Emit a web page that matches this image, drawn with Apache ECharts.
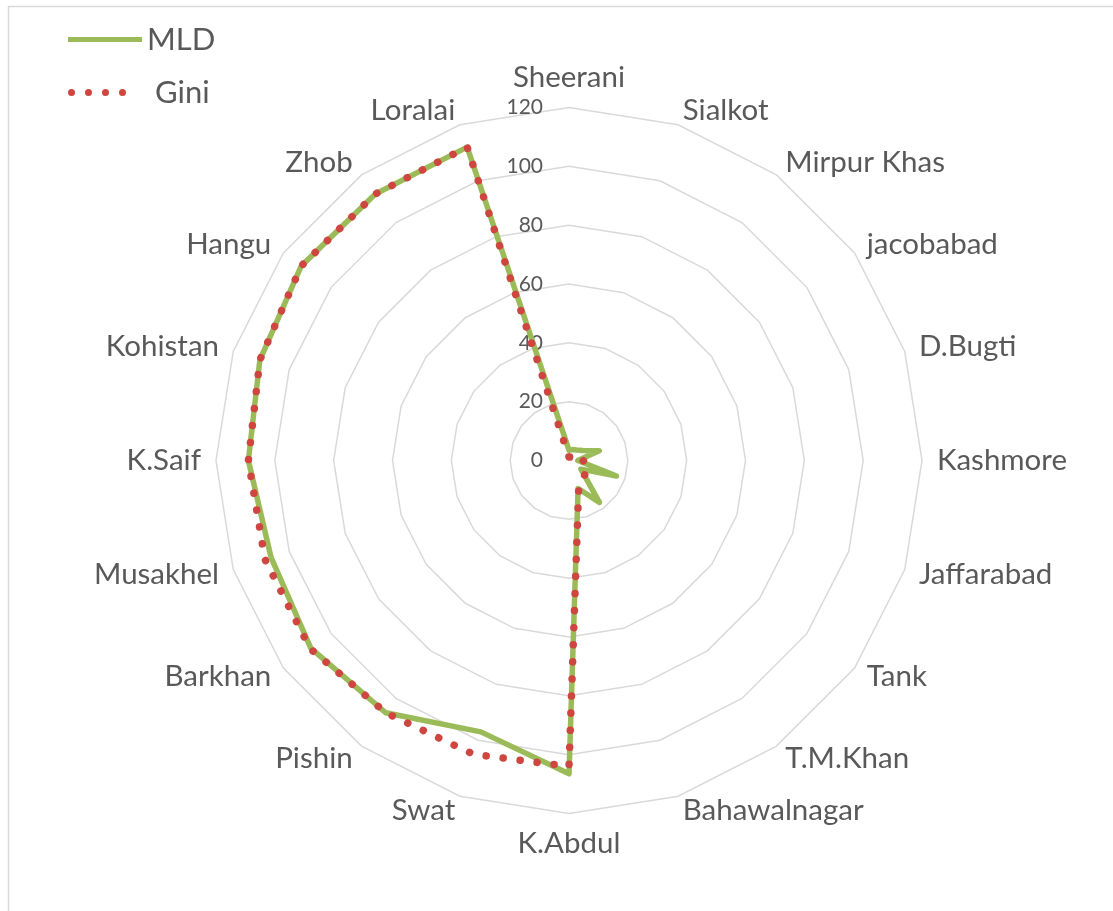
<!DOCTYPE html>
<html>
<head>
<meta charset="utf-8">
<script src="https://cdn.jsdelivr.net/npm/echarts@6/dist/echarts.min.js"></script>
<style>
  html, body { margin: 0; padding: 0; background: #ffffff; }
  #chart { width: 1113px; height: 911px; }
</style>
</head>
<body>
<div id="chart"></div>
<script>
// Categories, clockwise from the top
const categories = ['Sheerani', 'Sialkot', 'Mirpur Khas', 'jacobabad', 'D.Bugti', 'Kashmore',
  'Jaffarabad', 'Tank', 'T.M.Khan', 'Bahawalnagar', 'K.Abdul', 'Swat', 'Pishin', 'Barkhan',
  'Musakhel', 'K.Saif', 'Kohistan', 'Hangu', 'Zhob', 'Loralai'];
const mldValues = [3.5, 3.9, 4.4, 5.8, 10.8, 3, 17, 5, 17.6, 10,
  106.5, 97, 106, 108.5, 106.5, 109, 110.5, 112.5, 112, 112];
const giniValues = [1.2, 1.2, 1.5, 2, 4.6, 4.8, 7, 7, 8, 10.6,
  104, 105, 106, 108.8, 108.7, 109, 110.5, 112.5, 112, 112];
const ringTicks = [0, 20, 40, 60, 80, 100, 120];
const seriesNames = ['MLD', 'Gini'];

const FONT = 'Lato, "Open Sans", sans-serif';
const GREEN = '#9bbb59';
const RED = '#cf4640';

// ECharts places indicators counter-clockwise; reorder so they read clockwise
const order = [0].concat(categories.map((_, i) => i).slice(1).reverse());
const axisMax = ringTicks[ringTicks.length - 1];
const indicators = order.map(i => ({ name: categories[i], min: ringTicks[0], max: axisMax }));
indicators[0].axisLabel = {
  show: true, color: '#595959', fontSize: 21, fontFamily: FONT, margin: 26
};

const chart = echarts.init(document.getElementById('chart'), null, { renderer: 'canvas' });

const dotsIcon = 'path://M0,3.5a3.5,3.5 0 1,0 7,0a3.5,3.5 0 1,0 -7,0Z' +
  'M17,3.5a3.5,3.5 0 1,0 7,0a3.5,3.5 0 1,0 -7,0Z' +
  'M34,3.5a3.5,3.5 0 1,0 7,0a3.5,3.5 0 1,0 -7,0Z' +
  'M51,3.5a3.5,3.5 0 1,0 7,0a3.5,3.5 0 1,0 -7,0Z';

chart.setOption({
  backgroundColor: '#ffffff',
  animation: false,
  graphic: [{
    type: 'rect', silent: true, z: -10,
    shape: { x: 8.5, y: 6.5, width: 1300, height: 1100 },
    style: { fill: 'none', stroke: '#d9d9d9', lineWidth: 1.5 }
  }],
  legend: [{
    data: [{ name: seriesNames[0], icon: 'rect' }],
    orient: 'vertical', left: 68, top: 24, padding: 0,
    itemWidth: 74, itemHeight: 5,
    textStyle: { color: '#595959', fontSize: 31, fontFamily: FONT },
    selectedMode: false
  }, {
    data: [{ name: seriesNames[1], icon: dotsIcon }],
    orient: 'vertical', left: 68, top: 77, padding: 0,
    itemWidth: 58, itemHeight: 7,
    textStyle: { color: '#595959', fontSize: 31, fontFamily: FONT, padding: [0, 0, 0, 24] },
    selectedMode: false
  }],
  radar: {
    center: [569, 460.5],
    radius: 353,
    startAngle: 90,
    shape: 'polygon',
    splitNumber: ringTicks.length - 1,
    indicator: indicators,
    nameGap: 15,
    axisName: { color: '#595959', fontSize: 29.5, fontFamily: FONT },
    axisLine: { show: false },
    axisTick: { show: false },
    axisLabel: { show: false },
    splitLine: { lineStyle: { color: '#d9d9d9', width: 1.5 } },
    splitArea: { show: false }
  },
  series: [{
    type: 'radar',
    symbol: 'none',
    data: [{
      name: seriesNames[0],
      value: order.map(i => mldValues[i]),
      itemStyle: { color: GREEN },
      lineStyle: { color: GREEN, width: 5.5, join: 'round', cap: 'round' }
    }, {
      name: seriesNames[1],
      value: order.map(i => giniValues[i]),
      itemStyle: { color: RED },
      lineStyle: { color: RED, width: 7.5, type: [0.1, 17], cap: 'round', join: 'round' }
    }]
  }]
});
</script>
</body>
</html>
